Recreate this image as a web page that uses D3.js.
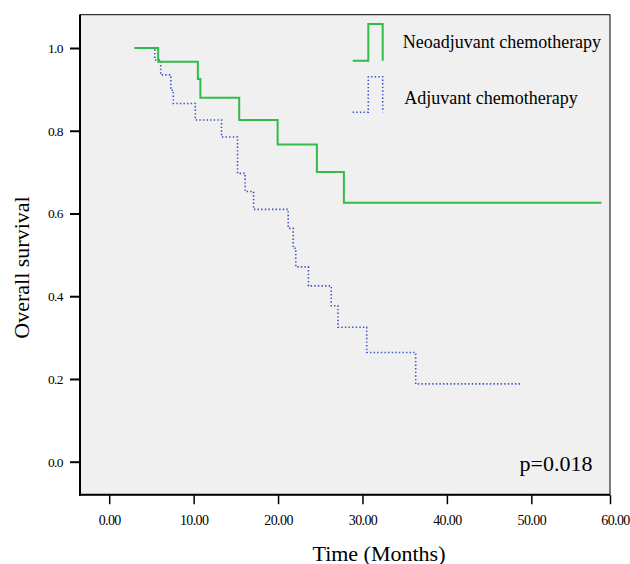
<!DOCTYPE html>
<html>
<head>
<meta charset="utf-8">
<script src="https://cdn.jsdelivr.net/npm/d3@7"></script>
<style>
  html, body { margin: 0; padding: 0; background: #ffffff; }
  svg { display: block; }
  text { font-family: "Liberation Serif", "DejaVu Serif", serif; fill: #000; }
</style>
</head>
<body>
<svg id="chart" width="630" height="564"></svg>
<script>
// ---- data ----
const seriesNames = ["Neoadjuvant chemotherapy", "Adjuvant chemotherapy"];
const neoStart = 3.0, neoEnd = 58.3;
const neoTimes = [5.8, 10.5, 10.8, 15.4, 19.95, 24.6, 27.8];
const neoSurv  = [0.967, 0.925, 0.880, 0.826, 0.767, 0.700, 0.626];
const adjStart = 3.0, adjEnd = 48.7;
const adjTimes = [5.4, 6.1, 7.3, 7.6, 10.2, 13.3, 15.2, 16.1, 17.1, 21.2, 21.8, 22.1, 23.6, 26.3, 27.1, 30.5, 36.3];
const adjSurv  = [0.971, 0.935, 0.898, 0.866, 0.826, 0.785, 0.697, 0.653, 0.610, 0.564, 0.516, 0.471, 0.425, 0.377, 0.325, 0.264, 0.188];
const xTicks = [0, 10, 20, 30, 40, 50, 60];
const yTicks = [0.0, 0.2, 0.4, 0.6, 0.8, 1.0];
const pLabel = "p=0.018";

// ---- layout ----
const svg = d3.select("#chart");
const L = 80, R = 610, T = 14.7, B = 494.7;
const x = d3.scaleLinear().domain([-3.46, 59.32]).range([L, R]).clamp(true);
const y = d3.scaleLinear().domain([0, 1]).range([461.7, 48]);

// plot background + frame
svg.append("rect").attr("x", L).attr("y", T).attr("width", R - L).attr("height", B - T)
  .attr("fill", "#f0f0f0").attr("stroke", "#000").attr("stroke-width", 1);
svg.append("line").attr("x1", L).attr("x2", L).attr("y1", T).attr("y2", B + 1)
  .attr("stroke", "#000").attr("stroke-width", 2);
svg.append("line").attr("x1", L - 1).attr("x2", R).attr("y1", B).attr("y2", B)
  .attr("stroke", "#000").attr("stroke-width", 2);

// x axis
const xAxis = d3.axisBottom(x).tickValues(xTicks).tickFormat(d3.format(".2f"))
  .tickSizeInner(9).tickSizeOuter(0).tickPadding(11);
const gx = svg.append("g").attr("transform", `translate(0,${B + 0.5})`).call(xAxis);
gx.select(".domain").remove();
gx.selectAll(".tick line").attr("stroke", "#000").attr("stroke-width", 1.5);
gx.selectAll(".tick text").attr("font-family", "Liberation Serif").attr("font-size", 14)
  .attr("letter-spacing", -0.6)
  .attr("dx", d => d === 60 ? 5 : 0);

// y axis
const yAxis = d3.axisLeft(y).tickValues(yTicks).tickFormat(d3.format(".1f"))
  .tickSizeInner(10).tickSizeOuter(0).tickPadding(7);
const gy = svg.append("g").attr("transform", `translate(${L},0)`).call(yAxis);
gy.select(".domain").remove();
gy.selectAll(".tick line").attr("stroke", "#000").attr("stroke-width", 2);
gy.selectAll(".tick text").attr("font-family", "Liberation Serif").attr("font-size", 13.5)
  .attr("letter-spacing", -0.6);

// curves
function kmPoints(start, times, surv, end) {
  const pts = [[start, 1]];
  times.forEach((t, i) => pts.push([t, surv[i]]));
  pts.push([end, surv[surv.length - 1]]);
  return pts;
}
const line = d3.line().x(d => x(d[0])).y(d => y(d[1])).curve(d3.curveStepAfter);

svg.append("path").datum(kmPoints(adjStart, adjTimes, adjSurv, adjEnd))
  .attr("d", line).attr("fill", "none").attr("stroke", "#3b52c4")
  .attr("stroke-width", 1.6).attr("stroke-dasharray", "1.4,2.2");
svg.append("path").datum(kmPoints(neoStart, neoTimes, neoSurv, neoEnd))
  .attr("d", line).attr("fill", "none").attr("stroke", "#33bb4a")
  .attr("stroke-width", 2);

// legend
const leg = [
  { name: seriesNames[0], color: "#33bb4a", dash: null, w: 2, yb: 60.7, yt: 24, ty: 47.5, tx: 402.7 },
  { name: seriesNames[1], color: "#3b52c4", dash: "1.4,2.2", w: 1.6, yb: 112.3, yt: 76.7, ty: 104, tx: 404.3 }
];
leg.forEach(s => {
  const path = `M352.7,${s.yb}H368.3V${s.yt}H382.7V${s.yb}`;
  const p = svg.append("path").attr("d", path).attr("fill", "none")
    .attr("stroke", s.color).attr("stroke-width", s.w);
  if (s.dash) p.attr("stroke-dasharray", s.dash);
  svg.append("text").attr("x", s.tx).attr("y", s.ty).attr("font-size", 18).text(s.name);
});

// p value
svg.append("text").attr("x", 519.5).attr("y", 470.7).attr("font-size", 22).text(pLabel);

// axis titles
svg.append("text").attr("x", 379).attr("y", 560.5).attr("text-anchor", "middle")
  .attr("font-size", 22).text("Time (Months)");
svg.append("text").attr("transform", "translate(29,267.5) rotate(-90)")
  .attr("text-anchor", "middle").attr("font-size", 22).text("Overall survival");
</script>
</body>
</html>
